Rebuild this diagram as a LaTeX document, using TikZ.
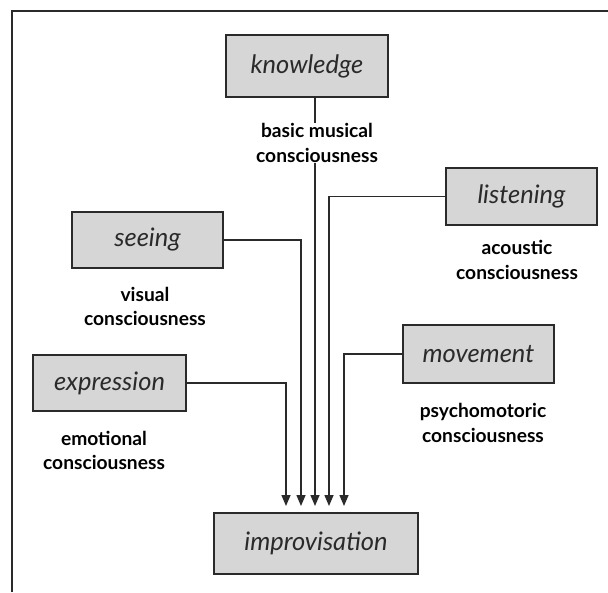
\documentclass[tikz,border=0pt]{standalone}
\usepackage{fontspec}
\setmainfont{Lato}
\usetikzlibrary{arrows.meta,calc}
\definecolor{boxfill}{HTML}{D6D6D6}
\definecolor{ink}{HTML}{2A2A2A}
\tikzset{
  box/.style={draw=ink, line width=2pt, fill=boxfill, inner sep=0pt,
    font=\fontsize{25.5}{28}\selectfont\itshape, text=ink},
  lbl/.style={align=center, inner sep=1pt, fill=white,
    font=\fontsize{19.2}{24.5}\selectfont\bfseries, text=black},
  conn/.style={draw=ink, line width=1.5pt},
  arr/.style={conn, -{Triangle[length=11pt,width=9pt]}, shorten >=6pt},
  frame/.style={draw=ink, line width=1.8pt}
}
\begin{document}
\begin{tikzpicture}[x=1pt,y=-1pt]
\useasboundingbox (0,0) rectangle (608,592);
\draw[frame] (12,592) -- (12,11) -- (608,11);

\node[box, minimum width=162pt, minimum height=62pt] (knowledge) at (307,66) {knowledge};
\node[box, minimum width=151pt, minimum height=57pt] (listening) at (521.5,196.5) {listening};
\node[box, minimum width=151pt, minimum height=56pt] (seeing) at (147.5,240) {seeing};
\node[box, minimum width=153pt, minimum height=56pt] (expression) at (109.5,383) {expression};
\node[box, minimum width=151pt, minimum height=58pt] (movement) at (478.5,354) {movement};
\node[box, minimum width=204pt, minimum height=61pt] (improvisation) at (316,543.5) {improvisation};

\draw[arr] (expression.east) -| ($(improvisation.north)+(-30,0)$);
\draw[arr] (seeing.east) -| ($(improvisation.north)+(-15,0)$);
\draw[arr] ($(knowledge.south)+(8,0)$) -- ($(improvisation.north)+(-1,0)$);
\draw[arr] (listening.west) -| ($(improvisation.north)+(13,0)$);
\draw[arr] (movement.west) -| ($(improvisation.north)+(28,0)$);

\node[lbl] (basic) at (317,143) {basic musical\\consciousness};
\node[lbl, fill=none] (acoustic) at (517,260) {acoustic\\consciousness};
\node[lbl, fill=none] (visual) at (145,306.5) {visual\\consciousness};
\node[lbl, fill=none] (emotional) at (104,450.5) {emotional\\consciousness};
\node[lbl, fill=none] (psycho) at (483,423) {psychomotoric\\consciousness};
\end{tikzpicture}
\end{document}
